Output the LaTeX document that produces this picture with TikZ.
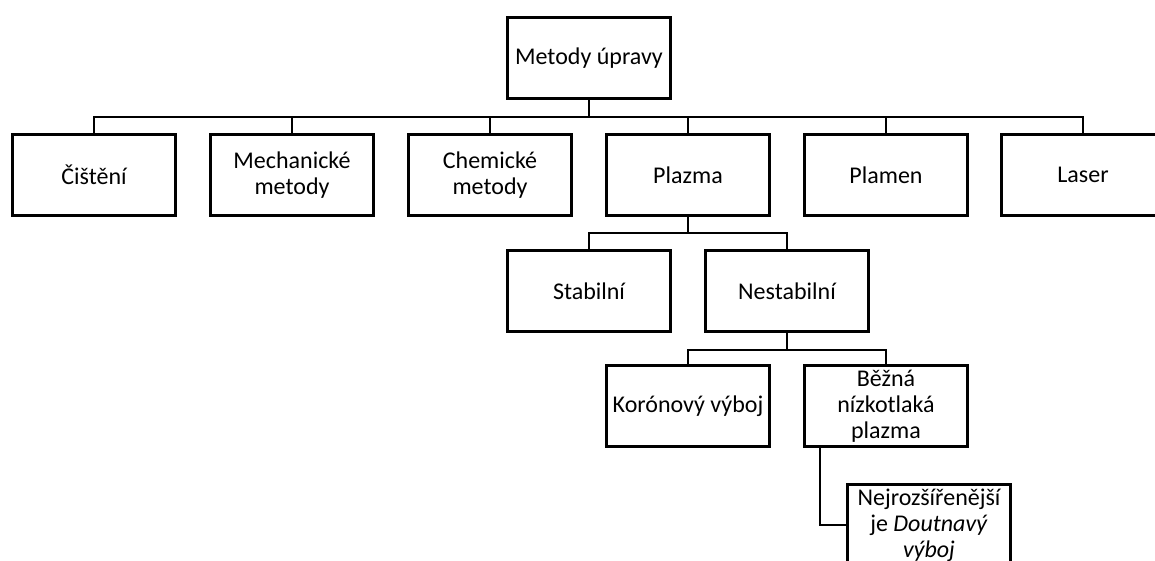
\documentclass[tikz,border=0pt]{standalone}
\usepackage{fontspec}
\setmainfont{Carlito}
\begin{document}
\begin{tikzpicture}[x=0.5pt, y=0.5pt,
		font=\fontsize{12}{13}\selectfont,
		box/.style={draw, line width=1.5pt, minimum width=81.5pt, minimum height=40.5pt, align=center, inner sep=1pt},
		conn/.style={line width=1pt}]
			\path[use as bounding box, clip] (0,0) rectangle (1155,-561);
			\node [box] (root) at (589,-58) {Metody úpravy};
			\node [box] (cis) at (94,-175) {Čištění};
			\node [box] (mech) at (292,-175) {Mechanické\\metody};
			\node [box] (chem) at (490,-175) {Chemické\\metody};
			\node [box] (plazma) at (688,-175) {Plazma};
			\node [box] (plamen) at (886,-175) {Plamen};
			\node [box] (laser) at (1083,-175) {Laser};
			\node [box] (stab) at (589,-291) {Stabilní};
			\node [box] (nestab) at (787,-291) {Nestabilní};
			\node [box] (koron) at (688,-406) {Korónový výboj};
			\node [box] (bezna) at (886,-406) {Běžná\\nízkotlaká\\plazma};
			\node [box] (nejroz) at (929,-525) {Nejrozšířenější\\je \textit{Doutnavý}\\\textit{výboj}};
			\foreach \c in {cis,mech,chem,plazma,plamen,laser}
				\draw [conn] (root.south) -- ++(0,-17) -| (\c.north);
			\foreach \c in {stab,nestab}
				\draw [conn] (plazma.south) -- ++(0,-16) -| (\c.north);
			\foreach \c in {koron,bezna}
				\draw [conn] (nestab.south) -- ++(0,-17) -| (\c.north);
			\draw [conn] (bezna.south west) ++(17,0) |- (nejroz.west);
		\end{tikzpicture}
\end{document}
